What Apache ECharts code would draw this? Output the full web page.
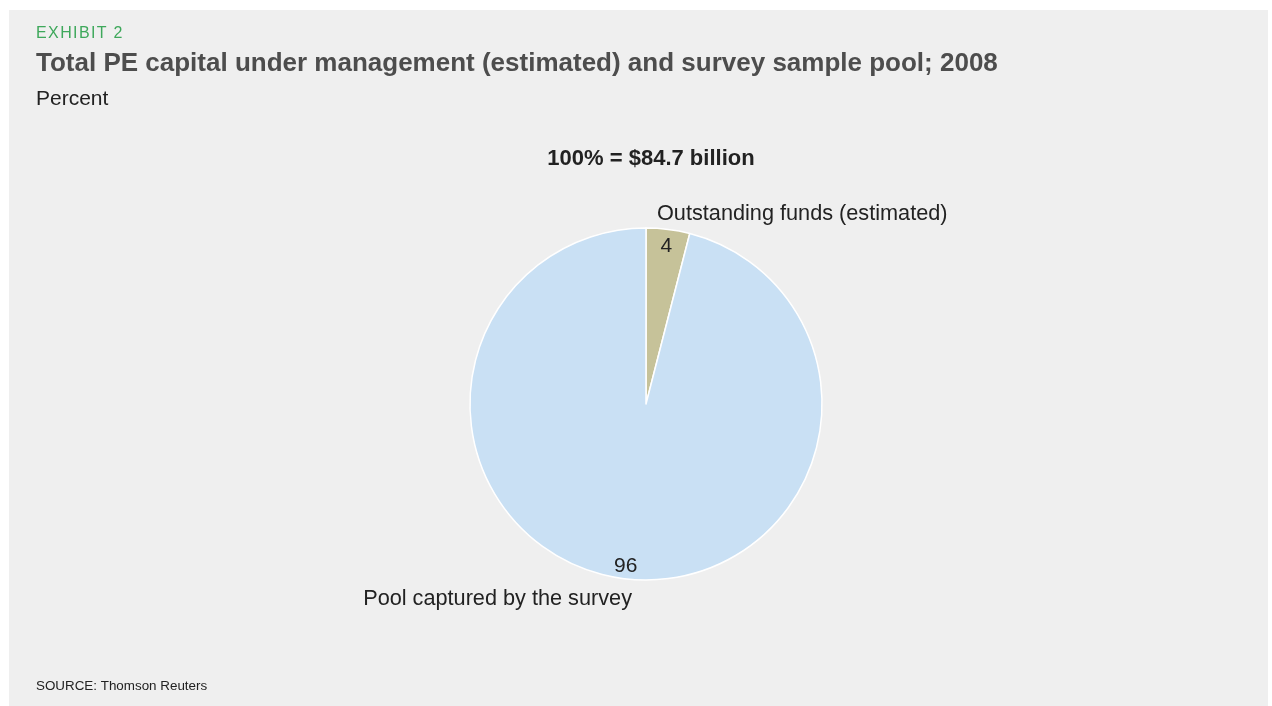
<!DOCTYPE html>
<html>
<head>
<meta charset="utf-8">
<script src="https://cdn.jsdelivr.net/npm/echarts@6/dist/echarts.min.js"></script>
<style>
  html, body { margin: 0; padding: 0; background: #ffffff; }
  #frame { position: absolute; left: 9px; top: 10px; width: 1259px; height: 696px; background: #efefef; }
  #chart { width: 1259px; height: 696px; }
  #exhibit { position: absolute; left: 27px; top: 14px; font: 16px "Liberation Sans", Arial, sans-serif; color: #3ea85b; letter-spacing: 1.4px; line-height: 18px; }
</style>
</head>
<body>
<div id="frame"><div id="chart"></div><div id="exhibit">EXHIBIT 2</div></div>
<script>
// Share of estimated PE capital, 2008 (percent)
const categories = ['Outstanding funds (estimated)', 'Pool captured by the survey'];
const shares = [4, 96];
const sliceColors = ['#c6c299', '#c9e0f4'];
const totalLabel = '100% = $84.7 billion';

const FONT = '"Liberation Sans", Arial, Helvetica, sans-serif';
const chart = echarts.init(document.getElementById('chart'), null, { renderer: 'canvas' });

const cx = 637, cy = 394, R = 176;
const data = categories.map((name, i) => ({ name, value: shares[i], itemStyle: { color: sliceColors[i] } }));

chart.setOption({
  animation: false,
  backgroundColor: 'transparent',
  graphic: [
    { type: 'text', left: 27, top: 41, style: { text: 'Total PE capital under management (estimated) and survey sample pool; 2008', font: 'bold 26px ' + FONT, fill: '#4d4d4d' } },
    { type: 'text', left: 27, top: 79, style: { text: 'Percent', font: '21px ' + FONT, fill: '#222222' } },
    { type: 'text', x: 642, y: 149, style: { text: totalLabel, font: 'bold 22px ' + FONT, fill: '#222222', align: 'center', verticalAlign: 'middle' } },
    { type: 'text', x: 648, y: 204, style: { text: categories[0], font: '21.7px ' + FONT, fill: '#222222', align: 'left', verticalAlign: 'middle' } },
    { type: 'text', x: 623, y: 589, style: { text: categories[1], font: '21.7px ' + FONT, fill: '#222222', align: 'right', verticalAlign: 'middle' } },
    { type: 'text', left: 27, top: 670, style: { text: 'SOURCE: Thomson Reuters', font: '13.4px ' + FONT, fill: '#222222' } }
  ],
  series: [
    {
      type: 'pie',
      center: [cx, cy],
      radius: [0, R],
      startAngle: 90,
      clockwise: true,
      silent: true,
      label: { show: false },
      labelLine: { show: false },
      itemStyle: { borderColor: '#ffffff', borderWidth: 1.5 },
      data: data
    },
    {
      // transparent copy whose inside labels sit near the rim of the visible pie
      type: 'pie',
      center: [cx, cy + 2],
      radius: [0, R * 1.8],
      startAngle: 90,
      clockwise: true,
      silent: true,
      itemStyle: { color: 'transparent', borderWidth: 0 },
      label: {
        show: true,
        position: 'inside',
        formatter: '{c}',
        fontFamily: FONT,
        fontSize: 21,
        color: '#222222'
      },
      labelLine: { show: false },
      data: data.map(d => ({ name: d.name, value: d.value }))
    }
  ]
});
</script>
</body>
</html>
